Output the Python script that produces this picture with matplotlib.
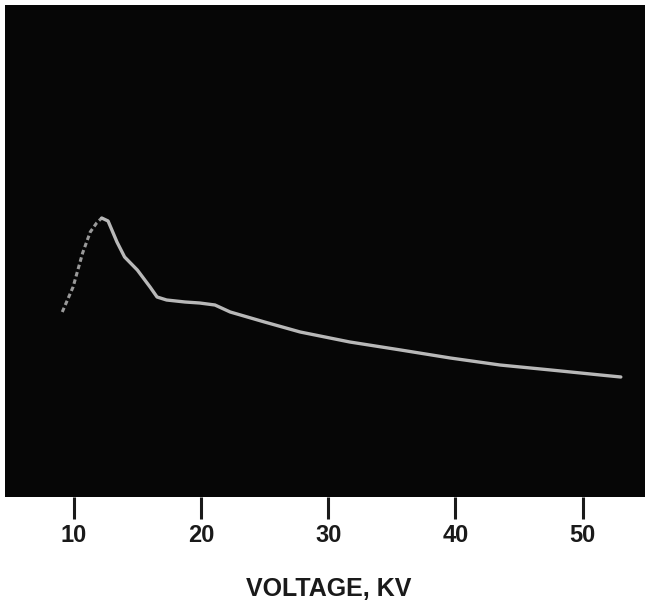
import numpy as np
import matplotlib
matplotlib.use('Agg')
import matplotlib.pyplot as plt

# trace (voltage in kV, relative height in arbitrary units)
voltage = [9.1, 9.95, 10.7, 11.3, 11.8, 12.2, 12.7, 13.4, 14.0, 15.0, 16.0,
           16.55, 17.3, 18.75, 19.9, 21.1, 22.3, 25.0, 27.8, 31.7, 35.7,
           39.6, 43.5, 47.5, 51.4, 53.0]
signal = [185, 210, 244, 265, 274, 279, 276, 255, 240, 227, 210,
          200, 197, 195, 194, 192, 185, 175, 165, 155, 147,
          139, 132, 127, 122, 120]

xticks = [10, 20, 30, 40, 50]

fig = plt.figure(figsize=(6.49, 6.01), dpi=100)
ax = fig.add_axes([5 / 649, 104 / 601, 640 / 649, 492 / 601])
ax.set_facecolor('#060606')

# rising edge is faint and dotted on the photo, the decay is a solid trace
ax.plot(voltage[:6], signal[:6], color='#9a9a9a', lw=2.2, ls=(0, (1.5, 1)))
ax.plot(voltage[5:], signal[5:], color='#b8b8b8', lw=2.4, solid_capstyle='round')

ax.set_xlim(4.6, 54.9)
ax.set_ylim(0, 492)
ax.set_yticks([])
ax.set_xticks(xticks)
ax.set_xticklabels([str(t) for t in xticks], fontsize=17, fontweight='bold',
                   family='Liberation Sans', color='#1a1a1a')
ax.tick_params(axis='x', direction='out', length=16, width=2.2, pad=3.5,
               color='#1a1a1a')
for s in ax.spines.values():
    s.set_visible(False)

fig.text(329 / 649, 5 / 601, 'VOLTAGE, KV', fontsize=18, fontweight='bold',
         family='Liberation Sans', color='#1a1a1a', ha='center', va='baseline')

fig.savefig('out.png', dpi=100)
